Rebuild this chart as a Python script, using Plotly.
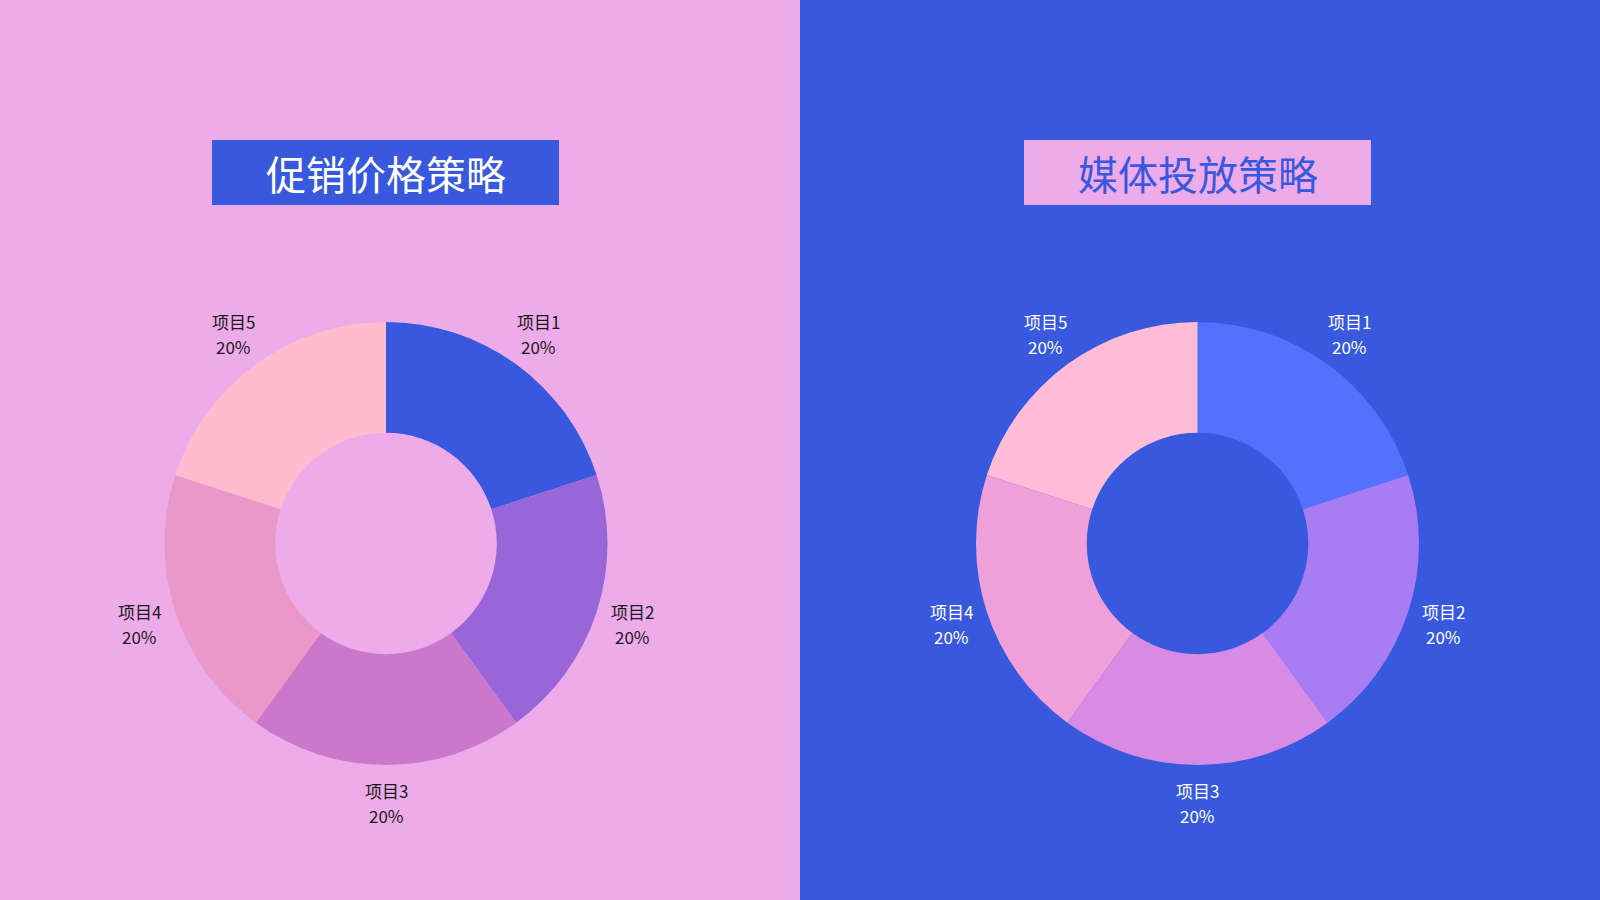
import math
import plotly.graph_objects as go

categories = ["项目1", "项目2", "项目3", "项目4", "项目5"]
promo_values = [20, 20, 20, 20, 20]
media_values = [20, 20, 20, 20, 20]
titles = ["促销价格策略", "媒体投放策略"]

PINK_BG = "#EEABE9"
BLUE_BG = "#3858DE"
left_colors = ["#3858DE", "#9966D9", "#CB77CB", "#EA98C8", "#FFBCCF"]
right_colors = ["#5271FF", "#A87DF3", "#D78BE4", "#EFA0DA", "#FFBCD6"]
FONT = "Noto Sans CJK SC"

W, H = 1600, 900
R_OUT = 221.5
CY = 543.5
panels = [
    dict(values=promo_values, colors=left_colors, cx=386.0, text="#1a1a1a"),
    dict(values=media_values, colors=right_colors, cx=1197.5, text="#FFFFFF"),
]

fig = go.Figure()
annotations = []
for p in panels:
    fig.add_trace(go.Pie(
        labels=categories, values=p["values"], hole=0.5, sort=False,
        direction="clockwise", rotation=0,
        marker=dict(colors=p["colors"], line=dict(width=0)),
        textinfo="none",
        domain=dict(x=[(p["cx"] - R_OUT) / W, (p["cx"] + R_OUT) / W],
                    y=[(H - CY - R_OUT) / H, (H - CY + R_OUT) / H]),
        showlegend=False, hoverinfo="label+percent",
    ))
    total = sum(p["values"])
    cum = 0.0
    r_lab = R_OUT * 1.17
    for lab, v in zip(categories, p["values"]):
        mid = (cum + v / 2) / total * 2 * math.pi
        cum += v
        lx = p["cx"] + r_lab * math.sin(mid)
        ly = CY - r_lab * math.cos(mid)
        pct = f"{round(v / total * 100)}%"
        for txt, ys in ((lab, 12.5), (pct, -12.5)):
            annotations.append(dict(
                text=txt, xref="paper", yref="paper", x=lx / W, y=1 - ly / H,
                xanchor="center", yanchor="middle", yshift=ys, showarrow=False,
                font=dict(family=FONT, size=17, color=p["text"])))

shapes = [
    dict(type="rect", xref="paper", yref="paper", x0=0, x1=0.5, y0=0, y1=1,
         fillcolor=PINK_BG, line=dict(width=0), layer="below"),
    dict(type="rect", xref="paper", yref="paper", x0=212/W, x1=559/W,
         y0=1-205/H, y1=1-140/H, fillcolor=BLUE_BG, line=dict(width=0), layer="below"),
    dict(type="rect", xref="paper", yref="paper", x0=1024/W, x1=1371/W,
         y0=1-205/H, y1=1-140/H, fillcolor=PINK_BG, line=dict(width=0), layer="below"),
]
annotations += [
    dict(text=titles[0], xref="paper", yref="paper", x=385.5/W, y=1-172.5/H,
         xanchor="center", yanchor="middle", showarrow=False,
         font=dict(family=FONT, size=40, color="#FFFFFF")),
    dict(text=titles[1], xref="paper", yref="paper", x=1197.5/W, y=1-172.5/H,
         xanchor="center", yanchor="middle", showarrow=False,
         font=dict(family=FONT, size=40, color=BLUE_BG)),
]

fig.update_layout(
    width=W, height=H,
    margin=dict(l=0, r=0, t=0, b=0),
    paper_bgcolor=BLUE_BG, plot_bgcolor=BLUE_BG,
    shapes=shapes, annotations=annotations,
    font=dict(family=FONT),
)
fig.write_html("out.html", config={"displayModeBar": False},
               post_script="document.body.style.margin='0px';")
